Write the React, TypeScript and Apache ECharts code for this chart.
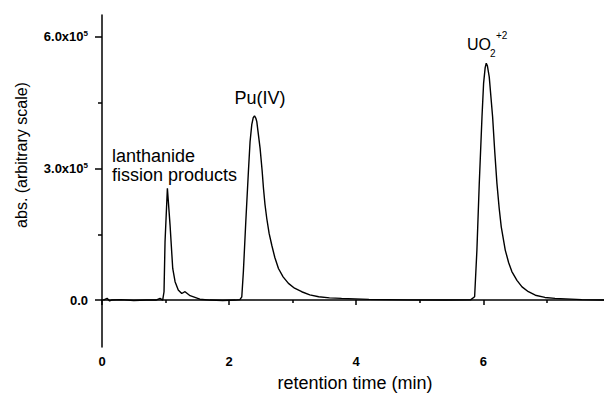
import React, { useEffect, useRef } from "react";
import * as echarts from "echarts";

const timeMin = [0.02, 0.08, 0.12, 0.15, 0.3, 0.5, 0.7, 0.85, 0.913, 0.955, 0.976, 0.992, 1.029, 1.071, 1.113, 1.15, 1.2, 1.255, 1.307, 1.386, 1.54, 1.7, 1.9, 2.1, 2.17, 2.2, 2.225, 2.263, 2.304, 2.33, 2.357, 2.38, 2.4, 2.42, 2.436, 2.488, 2.52, 2.541, 2.565, 2.593, 2.63, 2.672, 2.72, 2.777, 2.85, 2.934, 3.03, 3.143, 3.27, 3.41, 3.58, 3.77, 4.2, 4.8, 5.4, 5.8, 5.864, 5.9, 5.937, 5.98, 6.005, 6.03, 6.047, 6.065, 6.094, 6.147, 6.18, 6.215, 6.25, 6.283, 6.346, 6.4, 6.45, 6.53, 6.61, 6.71, 6.82, 6.97, 7.13, 7.55, 7.9];
const absValues = [0, 4000, -2000, 0, 1000, -1000, 0, 0, 4000, 0, 19000, 133000, 255000, 171000, 72000, 42000, 23000, 15000, 19000, 10000, 2000, 0, -1000, 0, 1000, 7500, 65000, 179000, 293000, 361000, 400000, 416000, 420000, 415000, 407000, 346000, 295000, 255000, 218000, 186000, 152000, 125000, 97000, 72000, 53000, 38000, 27000, 19000, 12000, 7500, 5000, 3900, 1500, 500, 0, 500, 7500, 114000, 266000, 418000, 494000, 530000, 540000, 534000, 509000, 418000, 340000, 266000, 210000, 167000, 114000, 85000, 65000, 45000, 30000, 19000, 11000, 6000, 3900, 1000, 0];

const xMajorTicks = [0, 2, 4, 6];
const xMinorTicks = [1, 3, 5, 7];
const yMajorTicks = [0, 300000, 600000];
const yMinorTicks = [150000, 450000];

const FONT = "'Liberation Sans', Arial, sans-serif";

export default function App() {
  const ref = useRef<HTMLDivElement>(null);
  useEffect(() => {
    document.body.style.margin = "0";
    const chart = echarts.init(ref.current!, null, { renderer: "svg" });
    const yCommon = { type: "value", min: -107000, max: 650000, position: "left", splitLine: { show: false } };
    const xCommon = { type: "value", min: 0, max: 7.9, position: "bottom", splitLine: { show: false } };
    chart.setOption({
      animation: false,
      backgroundColor: "#fff",
      grid: { left: 102, right: 0, top: 15, bottom: 48 },
      xAxis: [
        {
          ...xCommon,
          axisLine: { show: true, lineStyle: { color: "#000", width: 1.5 } },
          axisTick: { show: true, customValues: xMajorTicks, length: 5, lineStyle: { color: "#000", width: 1.5 } },
          axisLabel: {
            customValues: xMajorTicks,
            margin: 8,
            color: "#000",
            fontSize: 13,
            fontWeight: "bold",
            fontFamily: FONT,
          },
        },
        {
          ...xCommon,
          axisLine: { show: false },
          axisTick: { show: true, customValues: xMinorTicks, length: 3, lineStyle: { color: "#000", width: 1.5 } },
          axisLabel: { show: false },
        },
      ],
      yAxis: [
        {
          ...yCommon,
          axisLine: { show: true, lineStyle: { color: "#000", width: 1.5 } },
          axisTick: { show: true, customValues: yMajorTicks, length: 7, lineStyle: { color: "#000", width: 1.5 } },
          axisLabel: {
            customValues: yMajorTicks,
            margin: 14,
            formatter: (v: number) =>
              v === 0 ? "{b|0.0}" : `{b|${(v / 100000).toFixed(1)}x10}{s|5}`,
            rich: {
              b: { fontSize: 13, fontWeight: "bold", color: "#000", fontFamily: FONT, lineHeight: 14 },
              s: { fontSize: 8, fontWeight: "bold", color: "#000", fontFamily: FONT, verticalAlign: "top", lineHeight: 8 },
            },
          },
        },
        {
          ...yCommon,
          axisLine: { show: false },
          axisTick: { show: true, customValues: yMinorTicks, length: 4, lineStyle: { color: "#000", width: 1.5 } },
          axisLabel: { show: false },
        },
      ],
      series: [
        {
          type: "line",
          data: timeMin.map((t, i) => [t, absValues[i]]),
          showSymbol: false,
          symbol: "none",
          lineStyle: { color: "#000", width: 1.4 },
          xAxisIndex: 0,
          yAxisIndex: 0,
        },
      ],
      graphic: [
        {
          type: "text",
          x: 21,
          y: 155,
          rotation: Math.PI / 2,
          style: { text: "abs. (arbitrary scale)", fontSize: 16, fontFamily: FONT, fill: "#000", textAlign: "center", textVerticalAlign: "middle" },
        },
        {
          type: "text",
          x: 355,
          y: 383,
          style: { text: "retention time (min)", fontSize: 18, fontFamily: FONT, fill: "#000", textAlign: "center", textVerticalAlign: "middle" },
        },
        {
          type: "text",
          x: 112,
          y: 156,
          style: { text: "lanthanide", fontSize: 18, fontFamily: FONT, fill: "#000", textAlign: "left", textVerticalAlign: "middle" },
        },
        {
          type: "text",
          x: 112,
          y: 175,
          style: { text: "fission products", fontSize: 18, fontFamily: FONT, fill: "#000", textAlign: "left", textVerticalAlign: "middle" },
        },
        {
          type: "text",
          x: 260,
          y: 98,
          style: { text: "Pu(IV)", fontSize: 18, fontFamily: FONT, fill: "#000", textAlign: "center", textVerticalAlign: "middle" },
        },
        {
          type: "text",
          x: 467,
          y: 44,
          style: { text: "UO", fontSize: 16, fontFamily: FONT, fill: "#000", textAlign: "left", textVerticalAlign: "middle" },
        },
        {
          type: "text",
          x: 490,
          y: 53,
          style: { text: "2", fontSize: 10, fontFamily: FONT, fill: "#000", textAlign: "left", textVerticalAlign: "middle" },
        },
        {
          type: "text",
          x: 496,
          y: 35,
          style: { text: "+2", fontSize: 10, fontFamily: FONT, fill: "#000", textAlign: "left", textVerticalAlign: "middle" },
        },
      ],
    });
    return () => chart.dispose();
  }, []);
  return <div ref={ref} style={{ width: 604, height: 395, position: "fixed", left: 0, top: 0 }} />;
}
